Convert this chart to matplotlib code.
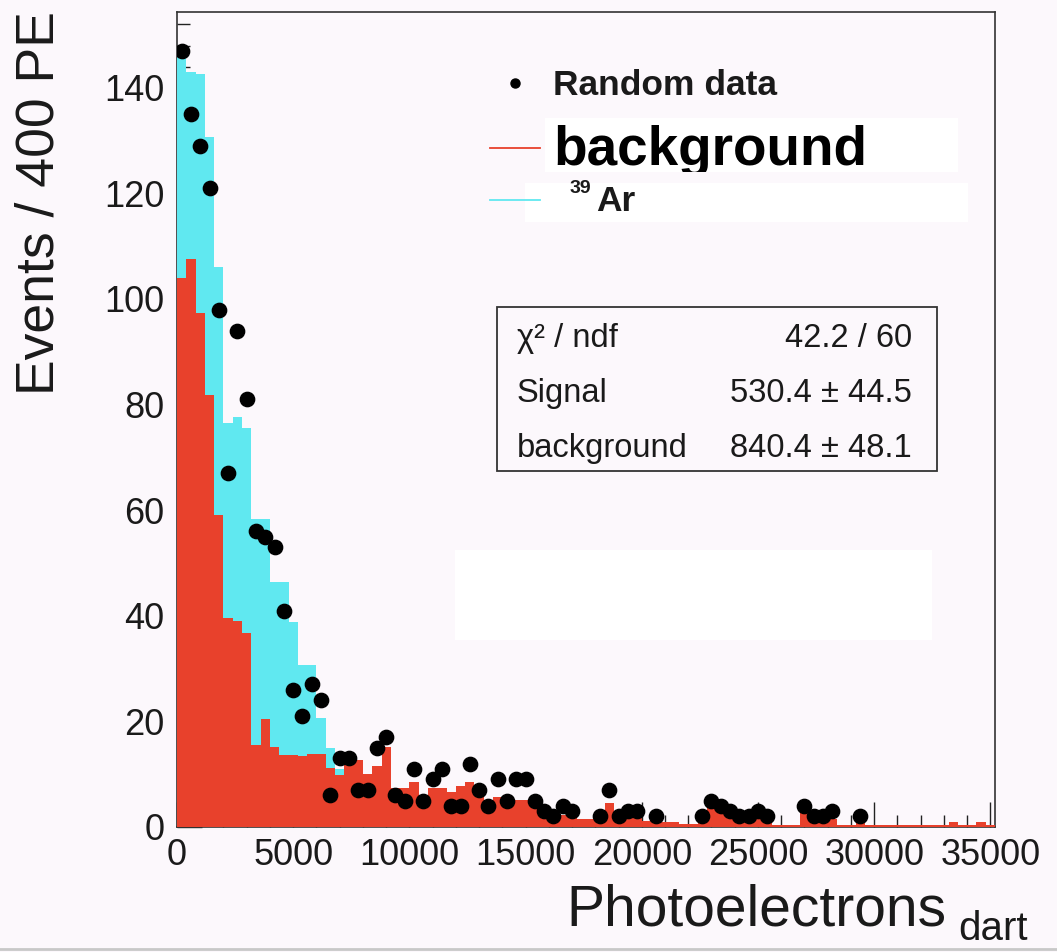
import numpy as np
import matplotlib
matplotlib.use("Agg")
import matplotlib.pyplot as plt
from matplotlib.patches import Rectangle
from matplotlib.lines import Line2D
from matplotlib.ticker import MultipleLocator
from matplotlib.transforms import Bbox, TransformedBbox
from matplotlib import font_manager

# ---------------- data ----------------
bin_width = 400
n_bins = 88
x_ticks = [0, 5000, 10000, 15000, 20000, 25000, 30000, 35000]
y_ticks = [0, 20, 40, 60, 80, 100, 120, 140]

# fitted background component (red)
background = [104, 107.6, 97.4, 81.8, 59.1, 39.6, 39.0, 36.8, 15.5, 20.4,
              15.2, 13.6, 13.6, 13.4, 13.8, 13.8, 11.1, 9.8, 12.7, 12.7,
              10.0, 11.5, 15.2, 7.3, 7.3, 8.6, 5.7, 7.3, 7.3, 6.7,
              7.8, 8.6, 7.2, 4.8, 5.7, 5.4, 5.1, 5.1, 4.5, 3.5,
              3.2, 2.3, 2.3, 1.6, 1.6, 1.6, 4.6, 1.6, 2.3, 2.3,
              1.2, 1.2, 0.9, 0.9, 0.6, 0.6, 2.3, 5.1, 5.1, 2.3,
              1.2, 1.2, 1.6, 0.9, 0.3, 0.3, 0.3, 4.5, 1.6, 1.6,
              1.6, 0.3, 0.3, 1.2, 0.3, 0.3, 0.3, 0.3, 0.3, 0.3,
              0.3, 0.3, 0.3, 0.9, 0.3, 0.3, 0.9, 0.3]

# fitted 39Ar component (cyan, stacked on background)
argon39 = [43.0, 35.4, 45.3, 48.9, 47.0, 36.9, 38.7, 38.7, 42.8, 37.9,
           31.2, 32.8, 25.3, 17.3, 16.9, 6.8, 3.9, 1.2, 0, 0,
           0, 0, 0, 0, 0, 0, 0, 0, 0, 0,
           0, 0, 0, 0, 0, 0, 0, 0, 0, 0,
           0, 0, 0, 0, 0, 0, 0, 0, 0, 0,
           0, 0, 0, 0, 0, 0, 0, 0, 0, 0,
           0, 0, 0, 0, 0, 0, 0, 0, 0, 0,
           0, 0, 0, 0, 0, 0, 0, 0, 0, 0,
           0, 0, 0, 0, 0, 0, 0, 0]

# random data counts
random_data = [147, 135, 129, 121, 98, 67, 94, 81, 56, 55,
               53, 41, 26, 21, 27, 24, 6, 13, 13, 7,
               7, 15, 17, 6, 5, 11, 5, 9, 11, 4,
               4, 12, 7, 4, 9, 5, 9, 9, 5, 3,
               2, 4, 3, 0, 0, 2, 7, 2, 3, 3,
               0, 2, 0, 0, 0, 0, 2, 5, 4, 3,
               2, 2, 3, 2, 0, 0, 0, 4, 2, 2,
               3, 0, 0, 2, 0, 0, 0, 0, 0, 0,
               0, 0, 0, 0, 0, 0, 0, 0]

stats_labels = ["\u03c7\u00b2 / ndf", "Signal", "background"]
stats_values = ["42.2 / 60", "530.4 \u00b1 44.5", "840.4 \u00b1 48.1"]

# ---------------- style ----------------
W, H = 1057, 952
BG = "#fcf8fc"
RED = "#e8412c"
CYAN = "#60e8f0"
TXT = "#1a1a1a"

plt.rcParams["font.family"] = ["Liberation Sans", "DejaVu Sans"]


def fx(px):
    return px / W


def fy(py):
    return 1 - py / H


fig = plt.figure(figsize=(W / 100, H / 100), dpi=100, facecolor=BG)
ax = fig.add_axes([fx(177), fy(827), (995 - 177) / W, (827 - 12) / H])
ax.set_facecolor(BG)

edges = np.arange(n_bins + 1) * bin_width
bg = np.array(background, dtype=float)
ar = np.array(argon39, dtype=float)
dat = np.array(random_data, dtype=float)
total = bg + ar

ax.stairs(total, edges, fill=True, color=CYAN, lw=0, zorder=3)
ax.stairs(bg, edges, fill=True, color=RED, lw=0, zorder=3.1)

centers = edges[:-1] + bin_width / 2
m = dat > 0
ax.plot(centers[m], dat[m], "o", color="black", ms=10.3, zorder=4)

ax.set_xlim(0, n_bins * bin_width)
ax.set_ylim(0, 154.35)
ax.set_xticks(x_ticks)
ax.set_xticklabels([str(t) for t in x_ticks])
ax.set_yticks(y_ticks)
ax.set_yticklabels([str(t) for t in y_ticks])
ax.xaxis.set_minor_locator(MultipleLocator(1000))
ax.yaxis.set_minor_locator(MultipleLocator(4))
ax.tick_params(which="both", direction="in", top=False, right=False,
               labelsize=26, pad=8, colors="#222222", labelcolor=TXT)
ax.tick_params(axis="y", pad=9)
ax.tick_params(which="major", length=18, width=1.0)
ax.tick_params(which="minor", length=9, width=1.0)
for s in ax.spines.values():
    s.set_color("#333333")
    s.set_linewidth(1.2)

# axis titles
try:
    font_manager.findfont("Liberation Sans Narrow", fallback_to_default=False)
    yl_family, yl_size = ["Liberation Sans Narrow", "DejaVu Sans"], 44
except Exception:
    yl_family, yl_size = ["Liberation Sans", "DejaVu Sans"], 38.5
fig.text(fx(40), fy(203), "Events / 400 PE", rotation=90, ha="center",
         va="center", fontsize=yl_size, family=yl_family, color=TXT)
fig.text(fx(566), fy(926), "Photoelectrons", ha="left", va="baseline",
         fontsize=41, color=TXT)
fig.text(fx(958), fy(940), "dart", ha="left", va="baseline",
         fontsize=29, color=TXT)

# legend
fig.add_artist(Line2D([fx(515)], [fy(83)], marker="o", ms=6.5, color="black",
                      transform=fig.transFigure))
fig.text(fx(553), fy(95), "Random data", ha="left", va="baseline",
         fontsize=25.5, fontweight="bold", color=TXT)
fig.add_artist(Line2D([fx(490), fx(540)], [fy(148), fy(148)], color=RED,
                      lw=1.3, transform=fig.transFigure))
fig.add_artist(Line2D([fx(490), fx(540)], [fy(200), fy(200)], color=CYAN,
                      lw=1.3, transform=fig.transFigure))
fig.add_artist(Rectangle((fx(545), fy(172)), (958 - 545) / W, (172 - 118) / H,
                         transform=fig.transFigure, facecolor="white",
                         edgecolor="none"))
t = fig.text(fx(553), fy(165), "background", ha="left", va="baseline",
             fontsize=39.5, fontweight="bold", color="black")
t.set_clip_box(TransformedBbox(Bbox.from_extents(fx(545), fy(172), fx(958), fy(118)),
                               fig.transFigure))
t.set_clip_on(True)
fig.add_artist(Rectangle((fx(525), fy(222)), (968 - 525) / W, (222 - 183) / H,
                         transform=fig.transFigure, facecolor="white",
                         edgecolor="none"))
fig.text(fx(570), fy(193), "39", ha="left", va="baseline", fontsize=14,
         fontweight="bold", color=TXT)
fig.text(fx(596), fy(211), "Ar", ha="left", va="baseline", fontsize=25.5,
         fontweight="bold", color=TXT)

# white patch in lower middle
fig.add_artist(Rectangle((fx(455), fy(640)), (932 - 455) / W, (640 - 550) / H,
                         transform=fig.transFigure, facecolor="white",
                         edgecolor="none"))

# stats box
fig.add_artist(Rectangle((fx(497), fy(471)), (937 - 497) / W, (471 - 307) / H,
                         transform=fig.transFigure, facecolor=BG,
                         edgecolor="#333333", lw=1.3))
for i, (lab, val) in enumerate(zip(stats_labels, stats_values)):
    yb = 347 + 55 * i
    fig.text(fx(517), fy(yb), lab, ha="left", va="baseline", fontsize=23.5,
             color=TXT)
    fig.text(fx(912), fy(yb), val, ha="right", va="baseline", fontsize=23.5,
             color=TXT)

fig.add_artist(Line2D([0, 1], [fy(949), fy(949)], color="#c8c8c8", lw=2,
                      transform=fig.transFigure))

fig.savefig("out.png", dpi=100, facecolor=BG)
